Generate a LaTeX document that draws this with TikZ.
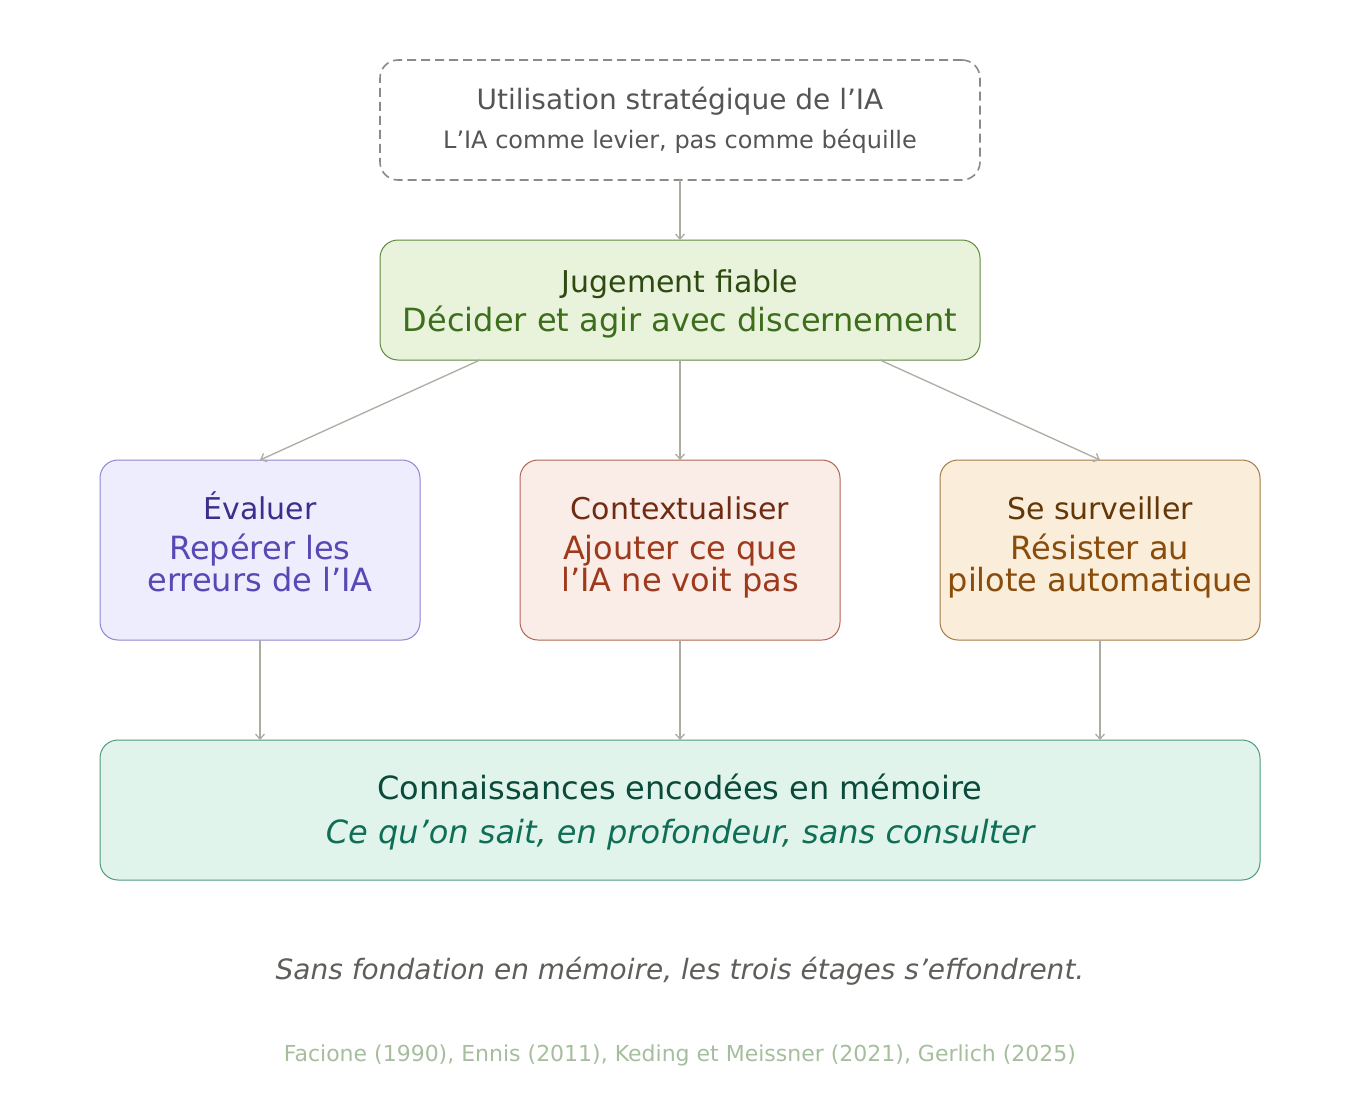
\documentclass[tikz,border=0pt]{standalone}
\usepackage{fontspec}
\setmainfont{DejaVu Sans}
\usetikzlibrary{positioning,arrows.meta}
\definecolor{linkgrey}{HTML}{ADABA2}
\definecolor{topgrey}{HTML}{555555}
\definecolor{topdash}{HTML}{8A8A88}
\definecolor{judgefill}{HTML}{E9F3DC}
\definecolor{judgedraw}{HTML}{5E8A3C}
\definecolor{judgehead}{HTML}{2E4A10}
\definecolor{judgetext}{HTML}{3D6E1B}
\definecolor{evalfill}{HTML}{EEEDFD}
\definecolor{evaldraw}{HTML}{8E85D2}
\definecolor{evalhead}{HTML}{3A2F8C}
\definecolor{evaltext}{HTML}{5947B5}
\definecolor{ctxfill}{HTML}{FAECE7}
\definecolor{ctxdraw}{HTML}{B26552}
\definecolor{ctxhead}{HTML}{712B12}
\definecolor{ctxtext}{HTML}{9E3A1C}
\definecolor{selffill}{HTML}{FAEDDA}
\definecolor{selfdraw}{HTML}{A47B45}
\definecolor{selfhead}{HTML}{633707}
\definecolor{selftext}{HTML}{8A4C0B}
\definecolor{memfill}{HTML}{E1F4EC}
\definecolor{memdraw}{HTML}{4E9A7E}
\definecolor{memhead}{HTML}{0A4A3A}
\definecolor{memtext}{HTML}{0F6E56}
\definecolor{notegrey}{HTML}{5F5E5A}
\definecolor{citegreen}{HTML}{A6BD9E}
\newcommand{\fsz}[1]{\fontsize{#1}{1.2\dimexpr#1pt\relax}\selectfont}
\newcommand{\levelnode}[3]{\rule{0pt}{32pt}{\fsz{30}#1}\\[1.5pt]{\fsz{32}#2}\\[-6.5pt]{\fsz{32}#3}\rule[-21pt]{0pt}{0pt}}

\begin{document}
\begin{tikzpicture}[
        x=1pt, y=-1pt,
        box/.style={rectangle, draw, rounded corners=18pt, line width=1pt, align=center, inner sep=0pt, outer sep=0pt},
        topbox/.style={box, draw=topdash, dashed, dash pattern=on 9pt off 5pt, line width=1.6pt, minimum width=600pt, minimum height=120pt, text=topgrey, font=\fsz{28}},
        judgebox/.style={box, fill=judgefill, draw=judgedraw, minimum width=600pt, minimum height=120pt, font=\fsz{32}},
        levelbox/.style={box, minimum width=320pt, minimum height=180pt, font=\fsz{32}},
        membox/.style={box, fill=memfill, draw=memdraw, minimum width=1160pt, minimum height=140pt, font=\fsz{32}},
        link/.style={-{Straight Barb[length=5pt, width=9pt]}, draw=linkgrey, line width=1.3pt}
    ]
    \useasboundingbox (0,0) rectangle (1360,1100);

    % Top layer
    \node[topbox] (usage) at (680,120) {{\fsz{28}Utilisation stratégique de l’IA}\\[5pt]{\fsz{24}L’IA comme levier, pas comme béquille}};

    % Judgement
    \node[judgebox, below=60pt of usage] (judge) {\rule{0pt}{31pt}{\fsz{30}\color{judgehead}Jugement fiable}\\[1pt]{\fsz{32}\color{judgetext}Décider et agir avec discernement}};

    % Three levels
    \node[levelbox, fill=ctxfill, draw=ctxdraw, below=100pt of judge] (context) {\levelnode{\color{ctxhead}Contextualiser}{\color{ctxtext}Ajouter ce que}{\color{ctxtext}l’IA ne voit pas}};
    \node[levelbox, fill=evalfill, draw=evaldraw, left=100pt of context] (evaluate) {\levelnode{\color{evalhead}Évaluer}{\color{evaltext}Repérer les}{\color{evaltext}erreurs de l’IA}};
    \node[levelbox, fill=selffill, draw=selfdraw, right=100pt of context] (monitor) {\levelnode{\color{selfhead}Se surveiller}{\color{selftext}Résister au}{\color{selftext}pilote automatique}};

    % Foundation
    \node[membox, below=100pt of context] (memory) {\rule{0pt}{30pt}{\fsz{32}\color{memhead}Connaissances encodées en mémoire}\\[5.5pt]{\fsz{32}\itshape\color{memtext}Ce qu’on sait, en profondeur, sans consulter}};

    % Notes
    \node[below=74pt of memory, font=\fsz{28}\itshape, text=notegrey] (note) {Sans fondation en mémoire, les trois étages s’effondrent.};
    \node[below=82pt of note.base, anchor=base, font=\fsz{22}, text=citegreen] (cite) {Facione (1990), Ennis (2011), Keding et Meissner (2021), Gerlich (2025)};

    % Arrows
    \draw[link] (usage) -- (judge);
    \draw[link] ([xshift=-200pt]judge.south) -- (evaluate.north);
    \draw[link] (judge) -- (context);
    \draw[link] ([xshift=200pt]judge.south) -- (monitor.north);
    \draw[link] (evaluate) -- (evaluate |- memory.north);
    \draw[link] (context) -- (memory);
    \draw[link] (monitor) -- (monitor |- memory.north);
\end{tikzpicture}
\end{document}
